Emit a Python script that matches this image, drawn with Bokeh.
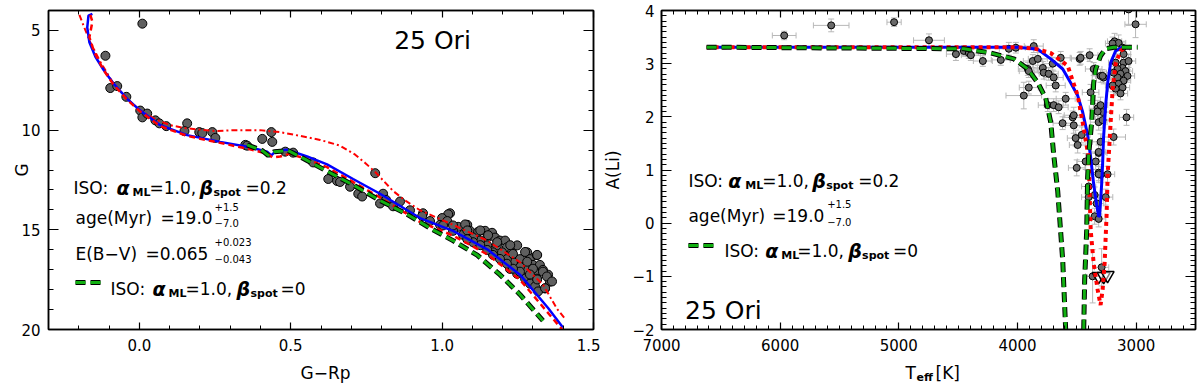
import math
import numpy as np
from bokeh.plotting import figure
from bokeh.models import (Range1d, SingleIntervalTicker, LinearAxis, Label,
                          PrintfTickFormatter, CustomJSTickFormatter)
from bokeh.layouts import row, column
from bokeh.embed import file_html
from bokeh.resources import INLINE

FONT = "DejaVu Sans"

# ---------------- left panel data : colour-magnitude diagram ----------------
cmd_color = [0.010, -0.112, -0.096, -0.073, -0.043, 0.003, 0.010, 0.026, 0.053, 0.066, 0.089, 0.158,
             0.149, 0.198, 0.208, 0.241, 0.251, 0.350, 0.356, 0.406, 0.436, 0.439, 0.482, 0.508,
             0.574, 0.624, 0.653, 0.663, 0.696, 0.723, 0.779, 0.805, 0.861, 0.736, 0.795, 0.815,
             0.838, 0.894, 0.937, 1.026,
             1.020, 1.000, 1.017, 1.053, 1.083, 1.092, 1.119, 1.142, 1.165, 1.149,
             1.175, 1.191, 1.208, 1.181, 1.214, 1.198, 1.231, 1.248, 1.281, 1.257,
             1.290, 1.313, 1.300, 1.323, 1.281, 1.307, 1.333, 1.350, 1.313, 1.356,
             1.340, 1.257, 1.234, 1.214, 1.168, 1.149, 1.125, 1.102, 1.069, 1.036,
             0.993, 0.960, 0.934, 1.224, 1.248, 1.274, 1.290, 1.307, 1.317,
             1.003, 1.036, 1.076, 1.083, 1.126, 1.152, 1.182, 1.225, 1.234, 1.274,
             1.281, 1.314, 1.300, 1.333, 1.346, 1.363, 1.340, 1.314, 1.290, 1.257,
             1.234, 1.214, 1.191, 1.168, 1.149, 1.126, 1.102, 1.083]
cmd_mag = [4.66, 6.27, 7.89, 7.79, 8.33, 9.02, 9.36, 9.17, 9.51, 9.66, 9.80, 9.66,
           10.05, 10.10, 10.15, 10.10, 10.39, 10.74, 10.78, 10.44, 10.10, 10.59, 11.08, 11.13,
           11.62, 12.45, 12.55, 12.60, 12.84, 13.19, 12.16, 13.19, 13.58, 13.33, 13.68, 13.50,
           13.82, 14.02, 14.17, 14.17,
           14.22, 14.41, 14.56, 14.85, 14.75, 15.05, 15.10, 15.05, 15.15, 15.39,
           15.39, 15.54, 15.54, 15.78, 15.88, 16.13, 16.13, 15.78, 16.13, 16.47,
           16.47, 16.27, 16.76, 16.76, 17.01, 17.11, 17.01, 17.25, 17.45, 17.60,
           17.94, 16.86, 16.62, 16.47, 16.13, 15.78, 15.54, 15.39, 15.25, 15.05,
           14.75, 14.56, 14.31, 16.96, 17.21, 17.45, 17.70, 17.84, 18.09,
           14.78, 14.78, 14.73, 15.03, 15.03, 15.27, 15.62, 15.77, 16.21, 16.11,
           16.60, 16.26, 16.95, 17.10, 17.34, 17.59, 17.93, 17.49, 17.24, 17.10,
           16.95, 16.70, 16.46, 16.26, 16.01, 15.77, 15.62, 15.47]

# isochrone alpha_ML=1.0, beta_spot=0.2 (blue solid)
iso_blue_c = [-0.155, -0.168, -0.172, -0.165, -0.145, -0.119, -0.086, -0.040, 0.003, 0.069, 0.158,
              0.267, 0.356, 0.422, 0.436, 0.452, 0.488, 0.554, 0.620, 0.706, 0.795, 0.927, 1.036,
              1.149, 1.257, 1.350, 1.399]
iso_blue_g = [4.17, 4.26, 4.85, 5.59, 6.32, 6.96, 7.65, 8.43, 9.02, 9.75, 10.25,
              10.59, 10.83, 11.08, 11.27, 11.03, 10.98, 11.32, 11.72, 12.45, 13.19, 14.41, 15.05,
              15.98, 17.25, 18.92, 19.90]
# red dashed
iso_red_c = [-0.162, -0.155, -0.165, -0.149, -0.119, -0.086, -0.040, 0.003, 0.069, 0.158, 0.267,
             0.356, 0.422, 0.439, 0.465, 0.498, 0.554, 0.620, 0.706, 0.795, 0.927, 1.036, 1.149,
             1.257, 1.350, 1.399]
iso_red_g = [4.22, 4.56, 5.34, 6.08, 6.96, 7.70, 8.48, 9.07, 9.80, 10.29, 10.64,
             10.93, 11.18, 11.37, 11.32, 11.18, 11.47, 11.86, 12.60, 13.38, 14.61, 15.29, 16.23,
             17.50, 19.17, 20.05]
# red dash-dot
iso_dd_c = [-0.198, -0.182, -0.162, -0.129, -0.086, -0.040, 0.003, 0.053, 0.102, 0.152, 0.251,
            0.317, 0.399, 0.465, 0.531, 0.597, 0.663, 0.713, 0.746, 0.779, 0.838, 0.880, 0.927,
            1.036, 1.149, 1.257, 1.333, 1.380, 1.406]
iso_dd_g = [4.22, 4.85, 5.59, 6.57, 7.65, 8.43, 9.02, 9.46, 9.75, 9.90, 10.05,
            10.00, 10.00, 10.10, 10.29, 10.49, 10.78, 11.23, 11.65, 12.10, 13.05, 13.55, 14.02,
            14.75, 15.54, 16.62, 17.75, 18.97, 19.46]
# isochrone beta_spot=0 (green dashed)
iso_grn_c = [0.356, 0.406, 0.426, 0.446, 0.492, 0.548, 0.620, 0.706, 0.795, 0.878, 0.970, 1.036,
             1.116, 1.191, 1.257, 1.333]
iso_grn_g = [10.74, 11.03, 11.27, 11.08, 11.03, 11.47, 12.06, 12.75, 13.53, 14.17, 15.00, 15.54,
             16.27, 17.25, 18.24, 19.56]

# ---------------- right panel data : lithium ----------------
li_teff = [5966, 5570, 5040, 4746, 4519, 4452, 4410, 4393, 4292, 4141,
           4073, 4014, 3913, 3905, 3871, 3829, 3787, 3863, 3779, 3737,
           3703, 3636, 3695, 3678, 3947, 3905, 3745, 3695, 3653, 3620,
           3594, 3535, 3476, 3392, 3358, 3300, 3526, 3510, 3493, 3459,
           3501, 3384, 3325, 3316, 3283, 3300, 3316, 3300, 3190, 3064,
           3005, 3182, 3148, 3106, 3173, 3106, 3115, 3064, 3157, 3090,
           3132, 3073, 3157, 3106, 3148, 3115, 3173, 3132, 3199, 3274,
           3283, 3190, 3081, 3468, 3526, 3426, 3316, 3300, 3325, 3283,
           3341, 3316, 3316, 3241, 3400, 3400, 3350, 3333, 3257, 3350,
           3316, 3291, 3367, 3199, 3115]
li_ali = [3.53, 3.72, 3.78, 3.44, 3.18, 3.24, 3.20, 3.16, 3.05, 3.07,
          3.28, 3.30, 2.90, 2.86, 3.05, 3.09, 2.92, 3.33, 2.83, 2.81,
          3.00, 3.11, 2.74, 2.59, 2.40, 2.55, 2.22, 2.22, 2.18, 1.88,
          2.34, 1.99, 3.09, 3.16, 2.90, 2.77, 1.84, 1.60, 1.47, 1.66,
          1.04, 2.46, 2.16, 1.90, 2.09, 1.53, 1.32, 0.91, 1.62, 4.02,
          3.74, 3.42, 3.39, 3.18, 3.02, 3.02, 2.92, 3.05, 2.90, 2.86,
          2.81, 2.77, 2.74, 2.68, 2.62, 2.55, 2.53, 2.44, 2.59, 2.74,
          2.77, 2.83, 1.99, 3.11, 2.03, 1.16, 0.95, 2.22, 2.10, 1.94,
          1.16, 1.34, 0.92, 0.92, 0.69, 0.49, 0.53, 0.37, 0.49, 0.13,
          0.08, -0.83, -1.00, 3.38, 3.30]
li_terr = [100, 150, 60, 130, 80, 70, 80, 80, 80, 80,
           80, 80, 80, 80, 80, 80, 80, 80, 80, 80,
           80, 80, 80, 80, 150, 80, 80, 80, 80, 80,
           80, 80, 70, 70, 70, 70, 70, 70, 70, 70,
           70, 70, 70, 70, 70, 70, 70, 70, 100, 90,
           90, 60, 60, 60, 60, 60, 60, 60, 60, 60,
           60, 60, 60, 60, 60, 60, 60, 60, 60, 60,
           60, 60, 60, 80, 80, 70, 70, 60, 60, 60,
           60, 60, 60, 60, 60, 60, 60, 60, 60, 60,
           60, 60, 60, 60, 60]
li_aerr = [0.08, 0.12, 0.08, 0.12, 0.12, 0.10, 0.10, 0.10, 0.10, 0.10,
           0.12, 0.10, 0.12, 0.12, 0.12, 0.12, 0.12, 0.12, 0.12, 0.12,
           0.12, 0.12, 0.12, 0.12, 0.25, 0.12, 0.12, 0.12, 0.12, 0.12,
           0.12, 0.12, 0.12, 0.12, 0.12, 0.12, 0.15, 0.15, 0.15, 0.15,
           0.15, 0.15, 0.15, 0.15, 0.15, 0.15, 0.15, 0.15, 0.15, 0.30,
           0.25, 0.15, 0.15, 0.12, 0.12, 0.12, 0.12, 0.12, 0.12, 0.12,
           0.12, 0.12, 0.12, 0.12, 0.12, 0.12, 0.12, 0.12, 0.12, 0.12,
           0.12, 0.12, 0.15, 0.12, 0.15, 0.15, 0.15, 0.15, 0.15, 0.15,
           0.15, 0.15, 0.15, 0.15, 0.15, 0.15, 0.15, 0.15, 0.15, 0.15,
           0.15, 0.35, 0.50, 0.12, 0.12]
ul_teff = [3316, 3274, 3241]
ul_ali = [-1.00, -1.00, -0.98]

li_blue_t = [6620, 4500, 4000, 3829, 3720, 3619, 3552, 3493, 3451, 3409, 3383, 3358, 3333, 3316,
             3308, 3300, 3291, 3283, 3275, 3257, 3240, 3215, 3173, 3114, 3072]
li_blue_a = [3.31, 3.31, 3.31, 3.27, 3.09, 2.90, 2.64, 2.40, 2.09, 1.66, 1.23, 0.73, 0.35, 0.12,
             0.14, 0.40, 0.73, 1.10, 1.60, 2.22, 2.64, 3.02, 3.24, 3.31, 3.31]
li_red_t = [6620, 4500, 4000, 3850, 3720, 3577, 3493, 3442, 3400, 3392, 3383, 3358, 3324, 3300,
            3283, 3266, 3249, 3240, 3215, 3198, 3173, 3131, 3089]
li_red_a = [3.31, 3.31, 3.31, 3.28, 3.20, 2.96, 2.40, 1.79, 1.23, 0.55, -0.14, -0.76, -1.26, -1.54,
            -1.26, -0.76, 0.17, 0.92, 1.90, 2.53, 3.00, 3.24, 3.31]
li_grn_t = [6620, 4452, 4224, 4031, 3913, 3829, 3762, 3720, 3695, 3661, 3619, 3594, float("nan"),
            3442, 3434, 3417, 3409, 3400, 3375, 3367, 3358, 3341, 3299, 3257, 3190, 2988]
li_grn_a = [3.31, 3.28, 3.20, 3.09, 2.90, 2.64, 2.35, 1.90, 1.29, 0.60, -0.70, -2.00, float("nan"),
            -2.00, -1.07, -0.14, 0.86, 1.29, 1.90, 2.22, 2.64, 2.90, 3.15, 3.28, 3.31, 3.31]

BLUE = "#0000ff"
RED = "#ff0000"
GREEN = "#12b012"


# reference page pixels -> data coordinates of each panel
def ref_L(px, py):
    return -0.3 + (px - 48) * 1.8 / 545.0, 4.0 + (py - 4) * 16.0 / 325.0


def ref_R(px, py):
    return 7000 - (px - 660) * 4500.0 / 535.0, 4.0 - (py - 4) * 6.0 / 323.0


def ref_S(px, py):          # bottom strip (page y 357..387)
    return px, 387 - py


def put(p, conv, px, py, text, size=17, style="normal", align="left",
        baseline="alphabetic", angle=0.0):
    x, y = conv(px, py)
    p.add_layout(Label(x=x, y=y, text=text, text_font=FONT, text_font_size=f"{size}px",
                       text_font_style=style, text_align=align, text_baseline=baseline,
                       angle=angle, text_color="black"))


def style_axis(ax, maj, mnr, show, standoff):
    ax.axis_line_color = "black"
    ax.axis_line_width = 1.5
    ax.major_tick_in = maj
    ax.major_tick_out = 0
    ax.minor_tick_in = mnr
    ax.minor_tick_out = 0
    ax.major_tick_line_color = "black"
    ax.minor_tick_line_color = "black"
    ax.major_tick_line_width = 1.2
    ax.minor_tick_line_width = 1
    ax.major_label_text_font = FONT
    ax.major_label_text_color = "black"
    ax.major_label_text_font_size = "15px"
    ax.major_label_standoff = standoff
    if not show:
        ax.formatter = CustomJSTickFormatter(code="return ''")
        ax.major_label_text_font_size = "2px"
        ax.major_label_standoff = 0


def make_fig(xr, yr, bl, br, xint, xmn, yint, ymn, xstand, ystand):
    p = figure(width=600, height=357, x_range=xr, y_range=yr, output_backend="svg",
               toolbar_location=None, min_border_left=bl, min_border_right=br,
               min_border_top=10, min_border_bottom=28)
    p.xgrid.visible = False
    p.ygrid.visible = False
    p.outline_line_color = "black"
    p.outline_line_width = 1.5
    bottom = p.below[0]
    left = p.left[0]
    bottom.ticker = SingleIntervalTicker(interval=xint, num_minor_ticks=xmn)
    left.ticker = SingleIntervalTicker(interval=yint, num_minor_ticks=ymn)
    style_axis(bottom, 7, 4, True, xstand)
    style_axis(left, 10, 5, True, ystand)
    top = LinearAxis(ticker=SingleIntervalTicker(interval=xint, num_minor_ticks=xmn))
    style_axis(top, 7, 4, False, 0)
    p.add_layout(top, "above")
    right = LinearAxis(ticker=SingleIntervalTicker(interval=yint, num_minor_ticks=ymn))
    style_axis(right, 10, 5, False, 0)
    p.add_layout(right, "right")
    return p, bottom, left


def set_ylabel(ax, text, standoff):
    ax.axis_label = text
    ax.axis_label_text_font = FONT
    ax.axis_label_text_font_size = "17px"
    ax.axis_label_text_font_style = "normal"
    ax.axis_label_text_color = "black"
    ax.axis_label_standoff = standoff


def pieces(p, conv, items):
    for (px, py, text, size, style) in items:
        put(p, conv, px, py, text, size=size, style=style)


# ================= LEFT PANEL =================
p1, p1_bottom, p1_left = make_fig(Range1d(-0.3, 1.5), Range1d(20, 4), 48, 7, 0.5, 5, 5, 5, 9, 8)
p1_bottom.formatter = PrintfTickFormatter(format="%.1f")
set_ylabel(p1_left, "G", -14)

p1.scatter(cmd_color, cmd_mag, marker="circle", size=9, fill_color="#5f5f5f",
           line_color="black", line_width=1)
p1.line(iso_dd_c, iso_dd_g, line_color=RED, line_width=2, line_dash="6 3 2 3")
p1.line(iso_blue_c, iso_blue_g, line_color=BLUE, line_width=2.5)
p1.line(iso_red_c, iso_red_g, line_color=RED, line_width=2.5, line_dash="6 4")
p1.line(iso_grn_c, iso_grn_g, line_color="black", line_width=5, line_dash="10 5")
p1.line(iso_grn_c, iso_grn_g, line_color=GREEN, line_width=3, line_dash="10 5")

put(p1, ref_L, 432, 35, "25 Ori", size=25, align="center")
pieces(p1, ref_L, [
    (73, 185, "ISO:", 17, "normal"),
    (116, 185, "α", 19, "bold italic"),
    (132, 189, "ML", 11, "bold"),
    (149, 185, "=1.0,", 17, "normal"),
    (199, 185, "β", 19, "bold italic"),
    (213, 189, "spot", 11, "bold"),
    (245, 185, "=0.2", 17, "normal"),
    (75, 215, "age(Myr)", 17, "normal"),
    (160, 215, "=19.0", 17, "normal"),
    (214, 204, "+1.5", 10, "normal"),
    (214, 221, "−7.0", 10, "normal"),
    (75, 252, "E(B−V)", 17, "normal"),
    (145, 252, "=0.065", 17, "normal"),
    (214, 240, "+0.023", 10, "normal"),
    (214, 257, "−0.043", 10, "normal"),
    (110, 288, "ISO:", 17, "normal"),
    (152, 288, "α", 19, "bold italic"),
    (168, 292, "ML", 11, "bold"),
    (185, 288, "=1.0,", 17, "normal"),
    (236, 288, "β", 19, "bold italic"),
    (250, 292, "spot", 11, "bold"),
    (280, 288, "=0", 17, "normal"),
])
lx0, ly = ref_L(75, 281)
lx1, _ = ref_L(101, 281)
p1.line([lx0, lx1], [ly, ly], line_color="black", line_width=5, line_dash="10 5")
p1.line([lx0, lx1], [ly, ly], line_color=GREEN, line_width=3, line_dash="10 5")

# ================= RIGHT PANEL =================
p2, p2_bottom, p2_left = make_fig(Range1d(7000, 2500), Range1d(-2, 4), 60, 5, 1000, 10, 1, 10, 9, 7)
p2_left.major_label_overrides = {-1: "−1", -2: "−2"}
set_ylabel(p2_left, "A(Li)", 6)

t = np.array(li_teff, dtype=float)
a = np.array(li_ali, dtype=float)
te = np.array(li_terr, dtype=float)
ae = np.array(li_aerr, dtype=float)
EB = "#b8b8b8"
p2.segment(t - te, a, t + te, a, line_color=EB, line_width=1)
p2.segment(t, a - ae, t, a + ae, line_color=EB, line_width=1)
p2.scatter(t, a - ae, marker="dash", size=6, line_color=EB, line_width=1)
p2.scatter(t, a + ae, marker="dash", size=6, line_color=EB, line_width=1)
p2.scatter(t - te, a, marker="dash", angle=math.pi / 2, size=6, line_color=EB, line_width=1)
p2.scatter(t + te, a, marker="dash", angle=math.pi / 2, size=6, line_color=EB, line_width=1)
p2.scatter(t, a, marker="circle", size=7, fill_color="#6a6a6a", line_color="black", line_width=1)
p2.scatter(ul_teff, ul_ali, marker="inverted_triangle", size=13, fill_color="white",
           fill_alpha=0.5, line_color="black", line_width=1.5)

p2.line(li_blue_t, li_blue_a, line_color=BLUE, line_width=3)
p2.line(li_red_t, li_red_a, line_color=RED, line_width=4, line_dash="4 4")
p2.line(li_grn_t, li_grn_a, line_color="black", line_width=5, line_dash="10 5")
p2.line(li_grn_t, li_grn_a, line_color=GREEN, line_width=3, line_dash="10 5")

put(p2, ref_R, 722, 308, "25 Ori", size=25, align="center")
pieces(p2, ref_R, [
    (687, 177, "ISO:", 17, "normal"),
    (727, 177, "α", 19, "bold italic"),
    (744, 181, "ML", 11, "bold"),
    (761, 177, "=1.0,", 17, "normal"),
    (811, 177, "β", 19, "bold italic"),
    (825, 181, "spot", 11, "bold"),
    (857, 177, "=0.2", 17, "normal"),
    (687, 212, "age(Myr)", 17, "normal"),
    (771, 212, "=19.0", 17, "normal"),
    (826, 200, "+1.5", 10, "normal"),
    (826, 218, "−7.0", 10, "normal"),
    (723, 248, "ISO:", 17, "normal"),
    (764, 248, "α", 19, "bold italic"),
    (780, 252, "ML", 11, "bold"),
    (796, 248, "=1.0,", 17, "normal"),
    (847, 248, "β", 19, "bold italic"),
    (861, 252, "spot", 11, "bold"),
    (892, 248, "=0", 17, "normal"),
])
rx0, ry = ref_R(687, 242)
rx1, _ = ref_R(712, 242)
p2.line([rx0, rx1], [ry, ry], line_color="black", line_width=5, line_dash="10 5")
p2.line([rx0, rx1], [ry, ry], line_color=GREEN, line_width=3, line_dash="10 5")

# ================= bottom strip with the x-axis titles =================
strip = figure(width=1200, height=30, x_range=Range1d(0, 1200), y_range=Range1d(0, 30),
               output_backend="svg", toolbar_location=None, x_axis_location=None,
               y_axis_location=None, min_border=0, outline_line_color=None)
strip.xgrid.visible = False
strip.ygrid.visible = False
put(strip, ref_S, 325, 372, "G−Rp", size=17, align="center", baseline="middle")
put(strip, ref_S, 905, 372, "T", size=17, baseline="middle")
put(strip, ref_S, 916, 377, "eff", size=11, style="bold", baseline="middle")
put(strip, ref_S, 935, 372, "[K]", size=17, baseline="middle")

layout = column(row(p1, p2), strip)
open("out.html", "w").write(file_html(layout, INLINE, title="25 Ori"))
